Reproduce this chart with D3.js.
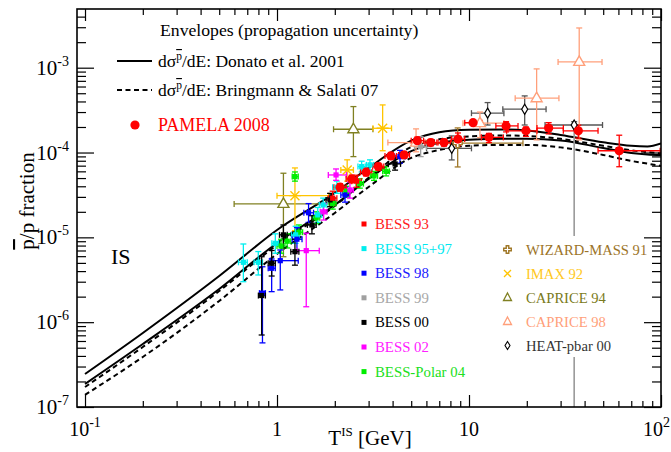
<!DOCTYPE html>
<html><head><meta charset="utf-8">
<script src="https://cdn.jsdelivr.net/npm/d3@7"></script>
<style>body{margin:0;background:#fff}svg{display:block}</style>
</head><body><svg id="c" width="671" height="452" font-family="Liberation Serif, DejaVu Serif, serif" style="font-family:'Liberation Serif','DejaVu Serif',serif"></svg>
<script>
// ---------- data ----------
const xMajor = [0.1, 1, 10, 100];
const xMajorLabels = [["10","-1"],["1",""],["10",""],["10","2"]];
const yMajor = [1e-7, 1e-6, 1e-5, 1e-4, 1e-3];
const yMajorLabels = [["10","-7"],["10","-6"],["10","-5"],["10","-4"],["10","-3"]];

const curveT =        [0.1,    0.2,    0.5,    1,      2,      3,      5,      7,      10,     15,     20,     30,     50,     70,     85,     100];
const donatoUpper =   [2.45e-7,7.46e-7,3.50e-6,1.22e-5,3.34e-5,6.58e-5,1.38e-4,1.73e-4,1.85e-4,1.87e-4,1.82e-4,1.61e-4,1.32e-4,1.20e-4,1.18e-4,1.28e-4];
const donatoLower =   [1.87e-7,5.53e-7,2.46e-6,8.59e-6,2.41e-5,4.88e-5,1.04e-4,1.30e-4,1.41e-4,1.45e-4,1.45e-4,1.39e-4,1.13e-4,9.89e-5,9.50e-5,9.37e-5];
const bringUpper =    [1.72e-7,5.10e-7,2.33e-6,8.14e-6,2.35e-5,5.02e-5,1.16e-4,1.43e-4,1.55e-4,1.59e-4,1.57e-4,1.45e-4,1.20e-4,1.06e-4,1.01e-4,9.76e-5];
const bringLower =    [1.39e-7,3.89e-7,1.78e-6,6.37e-6,1.94e-5,3.93e-5,8.64e-5,1.07e-4,1.20e-4,1.23e-4,1.23e-4,1.15e-4,9.37e-5,7.96e-5,7.40e-5,6.95e-5];

// each point: [T, value, Tlow, Thigh, valueLow, valueHigh]
const pamela2008 = [
[2.13,3.90e-5,1.98,2.29,3.5e-5,4.3e-5],[2.45,4.88e-5,2.29,2.62,4.4e-5,5.4e-5],
[2.91,5.86e-5,2.72,3.12,5.3e-5,6.5e-5],[3.37,6.82e-5,3.15,3.60,6.2e-5,7.5e-5],
[3.92,9.12e-5,3.65,4.20,8.3e-5,1.00e-4],[4.59,9.37e-5,4.30,4.90,8.6e-5,1.02e-4],
[5.38,1.38e-4,5.00,5.80,1.25e-4,1.52e-4],[6.32,1.31e-4,5.90,6.80,1.20e-4,1.43e-4],
[7.41,1.31e-4,6.90,8.00,1.19e-4,1.44e-4],[8.76,1.44e-4,8.10,9.50,1.20e-4,1.70e-4],
[10.5,2.25e-4,9.5,11.7,2.10e-4,2.40e-4],[12.7,1.51e-4,11.6,15.1,1.31e-4,1.68e-4],
[15.6,2.06e-4,13.8,18.0,1.75e-4,2.31e-4],[19.8,1.80e-4,15.7,22.6,1.55e-4,2.00e-4],
[26.0,1.94e-4,22.6,31.0,1.66e-4,2.25e-4],[37.1,1.80e-4,31.0,47.0,1.48e-4,2.10e-4],
[60.6,1.05e-4,47.0,99.0,6.8e-5,1.60e-4]];
const bess93 = [[1.95,2.9e-5,1.85,2.05,2.4e-5,3.5e-5],[2.6,4.6e-5,2.45,2.75,3.9e-5,5.4e-5]];
const bess9597 = [
[0.668,5.08e-6,0.63,0.70,3.0e-6,8.35e-6],[0.799,5.08e-6,0.76,0.84,3.6e-6,6.8e-6],
[0.98,8.5e-6,0.94,1.02,6.5e-6,1.1e-5],[1.25,1.07e-5,1.19,1.31,8.5e-6,1.35e-5],
[1.63,1.84e-5,1.55,1.71,1.5e-5,2.25e-5],[1.74,2.41e-5,1.66,1.82,2.0e-5,2.9e-5],
[2.05,3.9e-5,1.95,2.15,3.3e-5,4.6e-5],[2.76,6.82e-5,2.64,2.88,5.9e-5,7.9e-5],
[3.05,7.15e-5,2.92,3.18,6.2e-5,8.2e-5]];
const bess98 = [
[0.84,2.2e-6,0.81,0.87,5.7e-7,4.5e-6],[0.938,4.32e-6,0.90,0.98,2.29e-6,5.56e-6],
[1.04,5.31e-6,0.92,1.29,2.4e-6,7.1e-6],[1.27,9.51e-6,1.20,1.35,7.0e-6,1.3e-5],
[1.46,1.95e-5,1.38,1.55,1.5e-5,2.5e-5],[2.26,3.16e-5,2.15,2.38,2.6e-5,3.9e-5],
[4.37,8.95e-5,4.10,4.65,7.5e-5,1.06e-4]];
const bess99 = [[5.60,1.17e-4,5.20,6.00,8.95e-5,1.54e-4]];
const bess00 = [
[0.832,2.06e-6,0.80,0.87,7.06e-7,5.91e-6],[0.938,4.95e-6,0.90,0.98,3.5e-6,7.0e-6],
[1.08,1.07e-5,1.03,1.13,7.5e-6,1.4e-5],[1.24,6.78e-6,1.18,1.30,4.7e-6,9.5e-6],
[1.52,1.40e-5,1.44,1.60,1.1e-5,1.8e-5],[1.89,2.76e-5,1.80,2.00,2.3e-5,3.3e-5],
[4.12,7.34e-5,3.80,4.40,6.2e-5,8.6e-5]];
const bess02 = [
[1.42,6.97e-6,1.27,1.66,1.52e-6,1.12e-5],[2.03,5.44e-5,1.85,2.30,4.7e-5,6.4e-5],
[2.40,3.62e-5,2.30,2.50,2.9e-5,4.5e-5],[1.75,2.0e-5,1.68,1.82,1.6e-5,2.5e-5]];
const bessPolar04 = [
[1.24,5.20e-5,1.20,1.29,4.6e-5,5.9e-5],[1.05,7.9e-6,1.0,1.1,6.5e-6,9.5e-6],
[1.13,9.0e-6,1.08,1.18,7.5e-6,1.1e-5],[1.30,1.15e-5,1.24,1.36,9.5e-6,1.4e-5],
[1.60,1.70e-5,1.53,1.67,1.45e-5,2.0e-5],[1.95,2.5e-5,1.87,2.03,2.15e-5,2.9e-5],
[2.30,3.5e-5,2.2,2.4,3.0e-5,4.0e-5],[2.70,4.3e-5,2.58,2.82,3.8e-5,4.9e-5],
[3.20,5.3e-5,3.06,3.34,4.7e-5,6.0e-5],[3.70,6.0e-5,3.55,3.85,5.3e-5,6.8e-5]];
const wizardMass91 = [[8.73,1.29e-4,6.0,19.1,6.76e-5,1.95e-4]];
const imax92 = [
[1.24,3.10e-5,1.00,1.86,1.2e-5,6.58e-5],[2.32,6.24e-5,2.15,2.5,4.6e-5,8.2e-5],
[3.55,1.93e-4,3.16,3.95,1.05e-4,3.64e-4]];
const caprice94 = [[1.08,2.48e-5,0.598,1.97,5.91e-6,5.70e-5],[2.50,1.88e-4,1.97,3.16,8.95e-5,3.48e-4]];
const caprice98 = [
[5.30,1.31e-4,3.78,7.50,1.02e-4,1.90e-4],[11.4,2.22e-4,9.3,15.2,1.5e-4,3.0e-4],
[22.5,4.37e-4,17.4,29.4,1.41e-4,9.68e-4],[37.5,1.17e-3,29.1,49.3,1.41e-4,2.94e-3]];
const heatPbar00 = [
[8.13,1.12e-4,6.01,10.3,8.18e-5,1.57e-4],[12.5,2.91e-4,10.3,15.2,2.11e-4,3.88e-4],
[19.5,3.24e-4,15.0,25.2,2.11e-4,4.65e-4],[35.3,2.11e-4,24.9,49.6,0,2.31e-4]];

const bessNames = ["BESS 93","BESS 95+97","BESS 98","BESS 99","BESS 00","BESS 02","BESS-Polar 04"];
const otherNames = ["WIZARD-MASS 91","IMAX 92","CAPRICE 94","CAPRICE 98","HEAT-pbar 00"];

// ---------- drawing ----------
const svg = d3.select("#c");
const L=77,R=661,TP=9,B=407;
const x = d3.scaleLog().domain([Math.pow(10,-1.0417),100]).range([L,R]);
const y = d3.scaleLog().domain([1e-7,Math.pow(10,-2.308)]).range([B,TP]);

svg.append("defs").append("clipPath").attr("id","clip").append("rect")
  .attr("x",L).attr("y",TP).attr("width",R-L).attr("height",B-TP);

const plot=svg.append("g").attr("clip-path","url(#clip)");

// curves
const line=d3.line().x(d=>x(d[0])).y(d=>y(d[1])).curve(d3.curveMonotoneX);
[[donatoUpper,null],[donatoLower,null],[bringUpper,"5,3.5"],[bringLower,"5,3.5"]].forEach(([arr,dash])=>{
  plot.append("path").datum(curveT.map((t,i)=>[t,arr[i]])).attr("d",line).attr("fill","none")
   .attr("stroke","#000").attr("stroke-width",2).attr("stroke-dasharray",dash);
});

// error bars and markers
function errBars(data,color,cap=3,w=1.3){
  const g=plot.append("g").attr("stroke",color).attr("stroke-width",w).attr("fill","none");
  data.forEach(d=>{
    const cx=x(d[0]),cy=y(d[1]),x0=x(d[2]),x1=x(d[3]),y1=y(d[5]);
    const open=d[4]<=0, y0=open?B+5:y(d[4]);
    g.append("line").attr("x1",x0).attr("x2",x1).attr("y1",cy).attr("y2",cy);
    g.append("line").attr("x1",cx).attr("x2",cx).attr("y1",open?cy:y0).attr("y2",y1);
    if(open) g.append("line").attr("x1",cx).attr("x2",cx).attr("y1",y0).attr("y2",cy).attr("stroke","#9a9a9a").attr("stroke-width",1.6);
    g.append("line").attr("x1",x0).attr("x2",x0).attr("y1",cy-cap).attr("y2",cy+cap);
    g.append("line").attr("x1",x1).attr("x2",x1).attr("y1",cy-cap).attr("y2",cy+cap);
    if(!open) g.append("line").attr("x1",cx-cap).attr("x2",cx+cap).attr("y1",y0).attr("y2",y0);
    g.append("line").attr("x1",cx-cap).attr("x2",cx+cap).attr("y1",y1).attr("y2",y1);
  });
}
const sym={
  square:(g,cx,cy,c)=>g.append("rect").attr("x",cx-2.6).attr("y",cy-2.6).attr("width",5.2).attr("height",5.2).attr("fill",c),
  circle:(g,cx,cy,c)=>g.append("circle").attr("cx",cx).attr("cy",cy).attr("r",4.6).attr("fill",c),
  tri:(g,cx,cy,c)=>g.append("path").attr("d",`M${cx},${cy-6}L${cx+5.5},${cy+3.5}L${cx-5.5},${cy+3.5}Z`).attr("fill","#fff").attr("stroke",c).attr("stroke-width",1.4),
  diamond:(g,cx,cy,c)=>g.append("path").attr("d",`M${cx},${cy-5}L${cx+3},${cy}L${cx},${cy+5}L${cx-3},${cy}Z`).attr("fill","#fff").attr("stroke",c).attr("stroke-width",1.2),
  cross:(g,cx,cy,c)=>g.append("path").attr("d",d3.symbol().type(d3.symbolCross).size(45)()).attr("transform",`translate(${cx},${cy})`).attr("fill","#fff").attr("stroke",c).attr("stroke-width",1.4),
  star:(g,cx,cy,c)=>g.append("path").attr("d",`M${cx-4.5},${cy-4.5}L${cx+4.5},${cy+4.5}M${cx-4.5},${cy+4.5}L${cx+4.5},${cy-4.5}M${cx-6},${cy}L${cx+6},${cy}`).attr("stroke",c).attr("stroke-width",1.4)
};
function markers(data,type,color){const g=plot.append("g");data.forEach(d=>sym[type](g,x(d[0]),y(d[1]),color));}

const series=[
 [heatPbar00,"#555555","diamond","#000"],
 [caprice98,"#ff9f7a","tri","#ff9f7a"],
 [caprice94,"#808022","tri","#808022"],
 [imax92,"#ffc400","star","#ffc400"],
 [wizardMass91,"#a07828","cross","#a07828"],
 [bess99,"#a0a0a0","square","#a0a0a0"],
 [bessPolar04,"#00ee00","square","#00ee00"],
 [bess9597,"#00eeee","square","#00eeee"],
 [bess98,"#0000ff","square","#0000ff"],
 [bess02,"#ff00ff","square","#ff00ff"],
 [bess00,"#000000","square","#000000"],
 [bess93,"#ff0000","square","#ff0000"],
 [pamela2008,"#ff0000","circle","#ff0000"]
];
series.forEach(([d,c])=>errBars(d,c));
series.forEach(([d,c,t,m])=>markers(d,t,m));

// legend right column (white box)
svg.append("rect").attr("x",500).attr("y",236).attr("width",142).attr("height",121).attr("fill","#fff");

// ticks (drawn on top)
function minors(dom){const out=[];for(let e=-8;e<=3;e++)for(let k=2;k<=9;k++){const v=k*Math.pow(10,e);if(v>dom[0]&&v<dom[1])out.push(v);}return out;}
const xMin=minors(x.domain()), yMin=minors(y.domain());
function axisG(gen,tr){const g=svg.append("g").attr("transform",tr).call(gen);g.select(".domain").remove();g.selectAll("line").attr("stroke","#000").attr("stroke-width",1.2);g.selectAll("text").remove();}
axisG(d3.axisBottom(x).tickValues(xMajor).tickSize(-12),`translate(0,${B})`);
axisG(d3.axisBottom(x).tickValues(xMin).tickSize(-6),`translate(0,${B})`);
axisG(d3.axisTop(x).tickValues(xMajor).tickSize(-12),`translate(0,${TP})`);
axisG(d3.axisTop(x).tickValues(xMin).tickSize(-6),`translate(0,${TP})`);
axisG(d3.axisLeft(y).tickValues(yMajor).tickSize(-17),`translate(${L},0)`);
axisG(d3.axisLeft(y).tickValues(yMin).tickSize(-9),`translate(${L},0)`);
axisG(d3.axisRight(y).tickValues(yMajor).tickSize(-17),`translate(${R},0)`);
axisG(d3.axisRight(y).tickValues(yMin).tickSize(-9),`translate(${R},0)`);
svg.append("rect").attr("x",L).attr("y",TP).attr("width",R-L).attr("height",B-TP).attr("fill","none").attr("stroke","#000").attr("stroke-width",1.6);

// tick labels
xMajor.forEach((v,i)=>{
  const last=i===xMajor.length-1;
  const t=svg.append("text").attr("x",last?670:x(v)).attr("y",B+29).attr("text-anchor",last?"end":"middle").attr("font-size",20);
  t.append("tspan").text(xMajorLabels[i][0]);
  if(xMajorLabels[i][1]) t.append("tspan").attr("font-size",14).attr("dy",-9).text(xMajorLabels[i][1]);
});
yMajor.forEach((v,i)=>{
  const t=svg.append("text").attr("x",69).attr("y",y(v)+7).attr("text-anchor","end").attr("font-size",21);
  t.append("tspan").text(yMajorLabels[i][0]);
  t.append("tspan").attr("font-size",14).attr("dy",-9).text(yMajorLabels[i][1]);
});

// axis titles
const xt=svg.append("text").attr("x",370).attr("y",445).attr("text-anchor","middle").attr("font-size",21);
xt.append("tspan").text("T");xt.append("tspan").attr("font-size",13).attr("dy",-9).text("IS");
xt.append("tspan").attr("dy",9).text(" [GeV]");
const yt=svg.append("text").attr("transform","translate(34,201) rotate(-90)").attr("text-anchor","middle").attr("font-size",21);
yt.append("tspan").attr("style","text-decoration:overline").text("p");yt.append("tspan").text("/p fraction");

// legend top-left
svg.append("text").attr("x",160).attr("y",36).attr("font-size",17.7).text("Envelopes (propagation uncertainty)");
svg.append("line").attr("x1",117).attr("x2",152).attr("y1",61).attr("y2",61).attr("stroke","#000").attr("stroke-width",2);
svg.append("line").attr("x1",117).attr("x2",152).attr("y1",90).attr("y2",90).attr("stroke","#000").attr("stroke-width",2).attr("stroke-dasharray","5,3.5");
function sigmaText(yy,rest){
  const t=svg.append("text").attr("x",158).attr("y",yy).attr("font-size",17.5);
  t.append("tspan").text("dσ");
  t.append("tspan").attr("font-size",11.5).attr("dy",-7).attr("style","text-decoration:overline").text("p");
  t.append("tspan").attr("dy",7).text(rest);
}
sigmaText(67,"/dE: Donato et al. 2001");
sigmaText(96,"/dE: Bringmann & Salati 07");
svg.append("circle").attr("cx",135).attr("cy",125).attr("r",4.6).attr("fill","#ff0000");
svg.append("text").attr("x",158).attr("y",131).attr("font-size",18).attr("fill","#ff0000").text("PAMELA 2008");
svg.append("text").attr("x",111).attr("y",264).attr("font-size",22).text("IS");

// legend BESS column
const bessColors=["#ff0000","#00eeee","#0000ff","#a0a0a0","#000000","#ff00ff","#00ee00"];
const bessTextColors=["#ff2020","#00e8f0","#2020ff","#a8a8a8","#000000","#ff20ff","#20e020"];
bessNames.forEach((n,i)=>{
  const yy=224+i*24.6;
  svg.append("rect").attr("x",361.5).attr("y",yy-2.5).attr("width",5).attr("height",5).attr("fill",bessColors[i]);
  svg.append("text").attr("x",375).attr("y",yy+5).attr("font-size",14.8).attr("fill",bessTextColors[i]).text(n);
});
const oColors=["#a07828","#ffc400","#808022","#ff9f7a","#000"];
const oTextColors=["#9c7428","#ffc81e","#7a7a20","#ff9f7a","#333333"];
const oSyms=["cross","x","tri","tri","diamond"];
otherNames.forEach((n,i)=>{
  const yy=249.5+i*24;
  const g=svg.append("g");
  const c=oColors[i],cx=507.5;
  if(oSyms[i]==="cross") g.append("path").attr("d",d3.symbol().type(d3.symbolCross).size(32)()).attr("transform",`translate(${cx},${yy})`).attr("fill","#fff").attr("stroke",c).attr("stroke-width",1.4);
  if(oSyms[i]==="x") g.append("path").attr("d",`M${cx-3.5},${yy-3.5}L${cx+3.5},${yy+3.5}M${cx-3.5},${yy+3.5}L${cx+3.5},${yy-3.5}`).attr("stroke",c).attr("stroke-width",1.3);
  if(oSyms[i]==="tri") g.append("path").attr("d",`M${cx},${yy-4.5}L${cx+4},${yy+3}L${cx-4},${yy+3}Z`).attr("fill","#fff").attr("stroke",c).attr("stroke-width",1.3);
  if(oSyms[i]==="diamond") g.append("path").attr("d",`M${cx},${yy-4}L${cx+2.5},${yy}L${cx},${yy+4}L${cx-2.5},${yy}Z`).attr("fill","#fff").attr("stroke",c).attr("stroke-width",1.1);
  svg.append("text").attr("x",526).attr("y",yy+5).attr("font-size",14.6).attr("fill",oTextColors[i]).text(n);
});
</script></body></html>
